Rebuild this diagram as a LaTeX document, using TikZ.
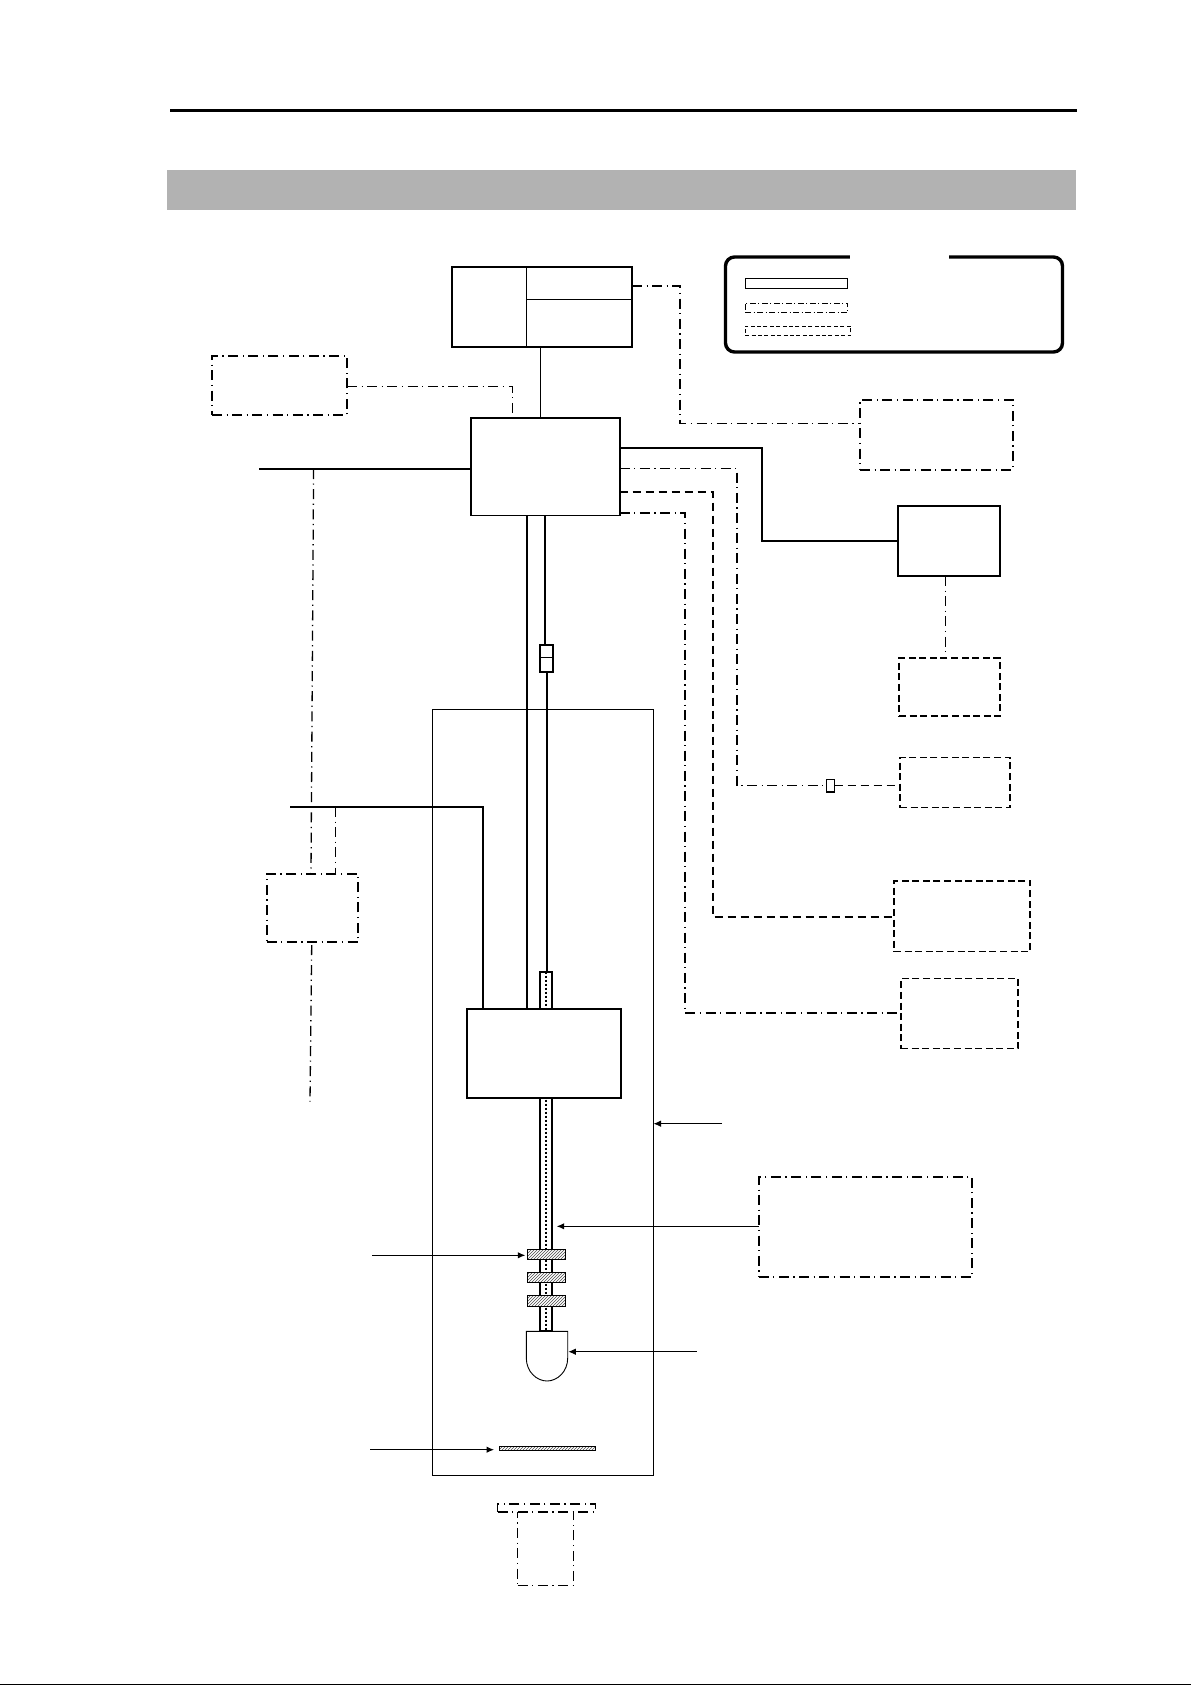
\documentclass[tikz,border=0pt]{standalone}
\usetikzlibrary{arrows.meta,patterns,calc}
\tikzset{
  x=1pt,y=-1pt,
  boxbase/.style={rectangle,inner sep=0pt,outer sep=0pt},
  solidbox/.style={boxbase,draw=black,line width=1.6pt,fill=white},
  thinbox/.style={boxbase,draw=black,line width=1pt},
  fusebox/.style={boxbase,draw=black,line width=1.4pt},
  ddash/.style={dash pattern=on 10pt off 4.5pt on 1.2pt off 4.5pt},
  ldash/.style={dash pattern=on 7pt off 3.6pt},
  ddbox/.style={boxbase,draw=black,line width=1.7pt,ddash},
  dashbox/.style={boxbase,draw=black,line width=1.8pt,ldash},
  thickline/.style={draw=black,line width=2pt},
  thinline/.style={draw=black,line width=.8pt},
  ddline/.style={draw=black,line width=1.3pt,ddash},
  dashline/.style={draw=black,line width=1.2pt,dash pattern=on 8pt off 5pt},
  hatchbox/.style={boxbase,draw=black,line width=.9pt,preaction={fill=white},pattern=north east lines,pattern color=black!70},
  callout/.style={draw=black,line width=1pt,-{Latex[length=7.5pt,width=6.5pt]}},
}
\newcommand{\bx}[6]{\node[#2,minimum width={(#5)-(#3)},minimum height={(#6)-(#4)}] (#1) at ({((#3)+(#5))/2},{((#4)+(#6))/2}) {};}
\begin{document}
\begin{tikzpicture}
\useasboundingbox (0,0) rectangle (1191,1685);
% page furniture
\fill[black] (170,108.7) rectangle (1077,111.9);
\fill[black!30] (167,170) rectangle (1076,210);
\fill[black] (0,1683.5) rectangle (1191,1685);
% housing
\bx{housing}{thinbox}{432}{709.3}{653.5}{1475}
% named junctions
\coordinate (busA) at (259,469);
\coordinate (busB) at (290,807);
\coordinate (jL) at (512.4,0);
\coordinate (jTop) at (540.5,0);
\coordinate (cL) at (527,0);
\coordinate (cR) at (545,0);
\coordinate (cRb) at (546.7,0);
\coordinate (stem) at (945.7,0);
\coordinate (ddB) at (335.7,0);
\coordinate (endF) at (310,1101.7);
% boxes
\bx{topbox}{solidbox}{452}{267}{632}{347}
\bx{main}{solidbox}{470.8}{417.7}{619.7}{515.3}
\bx{rbox}{solidbox}{898}{506}{1000}{576}
\bx{lbox}{ddbox}{212}{356}{347}{415}
\bx{gbox}{ddbox}{860}{400}{1013}{469.7}
\bx{abox}{dashbox}{899}{658}{1000}{716.3}
\bx{bbox}{dashbox}{900}{757.5}{1010.3}{807.5}
\bx{cbox}{dashbox}{894}{881}{1030.3}{951.5}
\bx{dbox}{dashbox}{901}{978.5}{1018.3}{1048.5}
\bx{ebox}{ddbox}{758.7}{1177}{972.3}{1277}
\bx{fbox}{ddbox}{266.7}{873.7}{358.3}{942}
\bx{tiny}{fusebox}{826.7}{779.6}{834.7}{792}
\bx{fuseA}{fusebox}{540}{645}{553}{657.7}
\bx{fuseB}{fusebox}{540}{657.7}{553}{672}
% top box dividers
\draw[thinline] (526.4,267) -- (526.4,347);
\draw[line width=1.2pt] (526.4,299.3) -- (topbox.east |- 0,299.3);
\draw[line width=2.2pt] (topbox.south west) -- (topbox.south east);
% solid connectors
\draw[thinline] (topbox.south -| jTop) -- (main.north -| jTop);
\draw[thickline] (busA) -- (main.west |- busA);
\draw[thickline] (main.east |- 0,447.7) -| (762,540.7) -- (rbox.west |- 0,540.7);
\draw[thickline] (main.south -| cR) -- (fuseA.north -| cR);
\draw[thickline] (main.south -| cL) -- (527,1008.7);
\draw[thickline] (busB) -| (483,1008.7);
% dash-dot and dashed connectors
\draw[ddline] (topbox.east |- 0,286) -| (680,423.5) -- (gbox.west |- 0,423.5);
\draw[ddline] (lbox.east |- 0,386.5) -| (main.north -| jL);
\draw[ddline] (main.east |- 0,468.7) -| (737,785.8) -- (tiny.west);
\draw[dashline] (tiny.east) -- (bbox.west |- tiny.east);
\draw[dashline] (main.east |- 0,492) -| (713,917) -- (cbox.west |- 0,917);
\draw[ddline] (main.east |- 0,513) -| (685,1013) -- (dbox.west |- 0,1013);
\draw[ddline] (rbox.south -| stem) -- (abox.north -| stem);
\draw[ddline] (313.6,469) -- ($(fbox.north)+(-1.5,0)$);
\draw[ddline] (busB -| ddB) -- (fbox.north -| ddB);
\draw[ddline] ($(fbox.south)+(-.8,3)$) -- (endF);
% sleeve and tube
\bx{tube}{boxbase,draw=black,line width=2.2pt,fill=white}{540.2}{971.7}{552.3}{1330.7}
\draw[line width=1.8pt,dash pattern=on 1.8pt off 2.2pt] (tube.north) -- (tube.south);
\draw[thickline] (fuseB.south -| cRb) -- (tube.north -| cRb);
% carriage
\bx{carriage}{solidbox}{466.7}{1008.7}{621}{1098}
% clamps
\bx{clampA}{hatchbox}{527.3}{1249.7}{565.7}{1259.3}
\bx{clampB}{hatchbox}{527.3}{1272.7}{565.7}{1282.3}
\bx{clampC}{hatchbox}{527.3}{1295.7}{565.7}{1306.3}
% dome
\draw[line width=.9pt,fill=white] (526.3,1331.3) -- (567.7,1331.3) -- (567.7,1358)
  .. controls (567.7,1372) and (557,1381) .. (547,1381)
  .. controls (537,1381) and (526.3,1372) .. (526.3,1358) -- cycle;
\coordinate (domeR) at (568.3,1351.7);
% bar
\bx{bar}{hatchbox}{499.3}{1446.7}{595.7}{1450.7}
% bottom dashed T
\bx{tstem}{boxbase,draw=black,line width=1.3pt,ddash}{517.7}{1511.7}{573.7}{1585.3}
\bx{ttop}{boxbase,draw=black,line width=1.7pt,ddash,fill=white}{497.5}{1504}{595.5}{1511.7}
% callouts
\coordinate (s1) at (722,1123.7);
\coordinate (s3) at (372,1255.3);
\coordinate (s4) at (696.7,1351.7);
\coordinate (s5) at (370,1449.7);
\coordinate (t2) at (556.7,1226.3);
\draw[callout] (s1) -- (housing.east |- s1);
\draw[callout] (ebox.west |- t2) -- (t2);
\draw[callout] (s3) -- ($(clampA.west |- s3)+(-2,0)$);
\draw[callout] (s4) -- (domeR);
\draw[callout] (s5) -- (494,1449.7);
% legend
\bx{legend}{boxbase,draw=black,line width=3.4pt,rounded corners=9pt}{725.5}{257}{1062.5}{352}
\fill[white] (850,252) rectangle (949,262);
\bx{keyA}{thinbox}{745.2}{279}{847.2}{289}
\bx{keyB}{boxbase,draw=black,line width=.9pt,dash pattern=on 6pt off 2.5pt on 1pt off 2.5pt}{745.2}{303}{847.6}{312.7}
\bx{keyC}{boxbase,draw=black,line width=.9pt,dash pattern=on 4pt off 2.4pt}{745.2}{326}{850.6}{335.7}
\end{tikzpicture}
\end{document}
